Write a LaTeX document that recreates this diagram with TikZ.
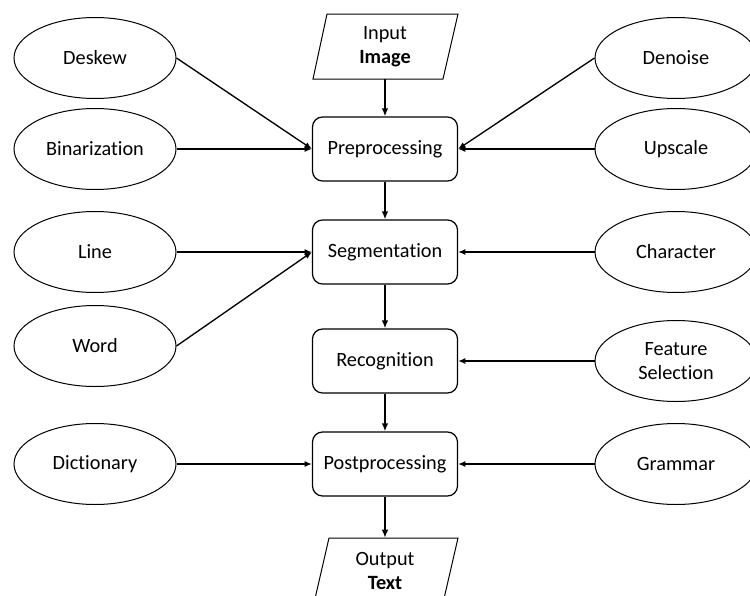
\documentclass[tikz,border=0pt]{standalone}
\usepackage{fontspec}
\setmainfont{Carlito}[Ligatures=NoCommon]
\usetikzlibrary{shapes.geometric,arrows.meta}
\begin{document}
\begin{tikzpicture}[x=0.75pt,y=-0.75pt,
  font=\fontsize{15.2}{18}\selectfont,
  proc/.style={draw,rounded corners=7.5pt,line width=0.9pt,minimum width=108.75pt,minimum height=48pt,inner sep=0pt},
  oval/.style={draw,ellipse,line width=0.75pt,minimum width=121.5pt,minimum height=60.75pt,inner sep=0pt,align=center},
  io/.style={minimum width=98pt,minimum height=48.75pt,inner sep=0pt,align=center},
  iobox/.style={line width=0.75pt},
  main/.style={-{Latex[length=6pt,width=5pt]},line width=1.5pt},
  side/.style={-{Latex[length=5.5pt,width=4.5pt]},line width=1pt}]
\clip (0,0) rectangle (750,596);
% I/O parallelograms
\draw[iobox] (327,14) -- (458,14) -- (443,79) -- (313,79) -- cycle;
\node[io] (in) at (385,46.5) {Input\\\textbf{Image}};
\draw[iobox] (329,538) -- (458,538) -- (443,603) -- (314,603) -- cycle;
\node[io] (out) at (385,570.5) {Output\\\textbf{Text}};
% process boxes
\node[proc] (pre)  at (385,149) {Preprocessing};
\node[proc] (seg)  at (385,252) {Segmentation};
\node[proc] (rec)  at (385,361) {Recognition};
\node[proc] (post) at (385,464) {Postprocessing};
% left ellipses
\node[oval] (deskew) at (95,58)  {Deskew};
\node[oval] (bin)    at (95,149) {Binarization};
\node[oval] (line)   at (95,252) {Line};
\node[oval] (word)   at (95,346) {Word};
\node[oval] (dict)   at (95,464) {Dictionary};
% right ellipses
\node[oval] (denoise) at (676,58)  {Denoise};
\node[oval] (upscale) at (676,149) {Upscale};
\node[oval] (char)    at (676,252) {Character};
\node[oval] (feat)    at (676,361) {Feature\\Selection};
\node[oval] (gram)    at (676,464) {Grammar};
% main flow
\draw[main] (in) -- (pre);
\draw[main] (pre) -- (seg);
\draw[main] (seg) -- (rec);
\draw[main] (rec) -- (post);
\draw[main] (post) -- (out);
% side inputs
\draw[side] (deskew.east) -- (pre.west);
\draw[side] (bin) -- (pre);
\draw[side] (denoise.west) -- (pre.east);
\draw[side] (upscale) -- (pre);
\draw[side] (line) -- (seg);
\draw[side] (word.east) -- (seg.west);
\draw[side] (char) -- (seg);
\draw[side] (feat) -- (rec);
\draw[side] (dict) -- (post);
\draw[side] (gram) -- (post);
\end{tikzpicture}
\end{document}
